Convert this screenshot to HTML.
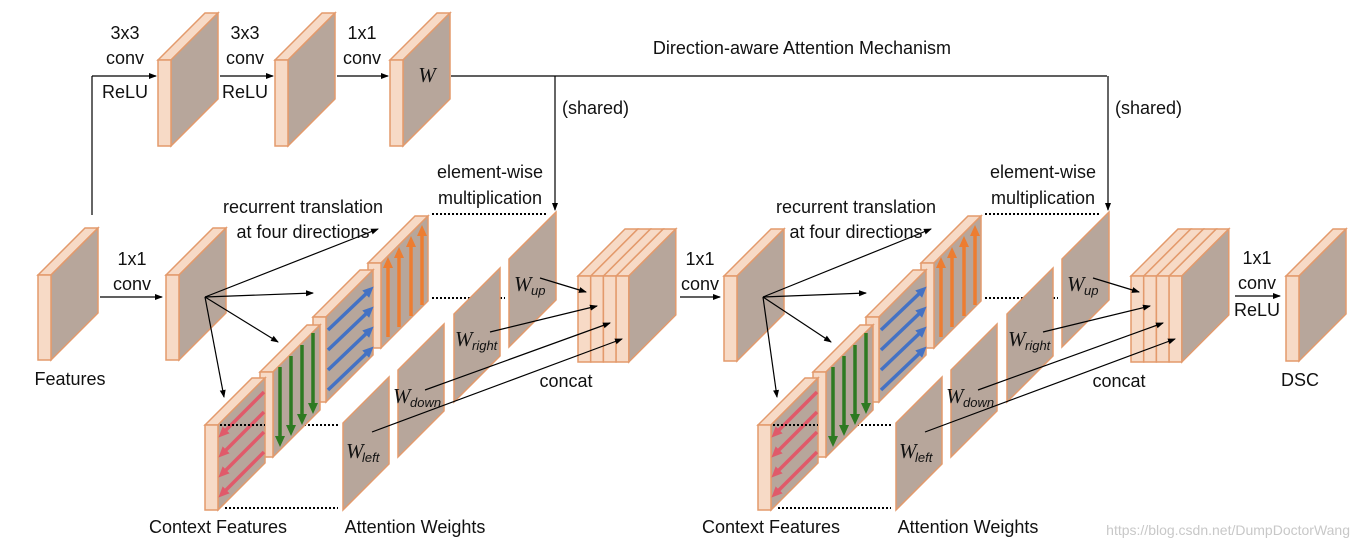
<!DOCTYPE html>
<html><head><meta charset="utf-8"><style>
body{margin:0;background:#fff}
svg{display:block}
text{font-family:"Liberation Sans",sans-serif;font-size:18px;fill:#111}
.m{font-family:"Liberation Serif",serif;font-style:italic;font-size:21px}
.s{font-size:13px;font-style:italic}
</style></head><body>
<svg id="g" width="1356" height="551" xmlns="http://www.w3.org/2000/svg">
<defs>
<marker id="a" markerWidth="8" markerHeight="8" refX="7" refY="4" orient="auto" markerUnits="userSpaceOnUse"><path d="M0,1 L8,4 L0,7z" fill="#000"/></marker>
<marker id="o" markerWidth="12" markerHeight="12" refX="6" refY="6" orient="auto" markerUnits="userSpaceOnUse"><path d="M0,1 L11,6 L0,11z" fill="#ed7d31"/></marker>
<marker id="b" markerWidth="12" markerHeight="12" refX="6" refY="6" orient="auto" markerUnits="userSpaceOnUse"><path d="M0,1 L11,6 L0,11z" fill="#4472c4"/></marker>
<marker id="gr" markerWidth="12" markerHeight="12" refX="6" refY="6" orient="auto" markerUnits="userSpaceOnUse"><path d="M0,1 L11,6 L0,11z" fill="#2e7a22"/></marker>
<marker id="r" markerWidth="12" markerHeight="12" refX="6" refY="6" orient="auto" markerUnits="userSpaceOnUse"><path d="M0,1 L11,6 L0,11z" fill="#e05a6a"/></marker>
</defs>
</svg>
<script>
var S='',E='#f7dac6',F='#b7a69b',K='#e39a6c';
function P(p,f){return '<polygon points="'+p.map(function(q){return q.join(',')}).join(' ')+'" fill="'+f+'" stroke="'+K+'" stroke-width="1.5"/>';}
function slab(x,y,w,h,d){S+=P([[x,y],[x+d,y-d],[x+d+w,y-d],[x+w,y]],E);S+=P([[x+w,y],[x+w+d,y-d],[x+w+d,y-d+h],[x+w,y+h]],F);S+='<rect x="'+x+'" y="'+y+'" width="'+w+'" height="'+h+'" fill="'+E+'" stroke="'+K+'" stroke-width="1.5"/>';}
function face(x,y,h,d){S+=P([[x,y],[x+d,y-d],[x+d,y-d+h],[x,y+h]],F);}
function concat(x,y){var w=12.7,h=86,d=47;for(var i=3;i>=0;i--){var xx=x+i*w;S+=P([[xx,y],[xx+d,y-d],[xx+d+w,y-d],[xx+w,y]],E);}
S+=P([[x+4*w,y],[x+4*w+d,y-d],[x+4*w+d,y-d+h],[x+4*w,y+h]],F);for(i=0;i<4;i++)S+='<rect x="'+(x+i*w)+'" y="'+y+'" width="'+w+'" height="'+h+'" fill="'+E+'" stroke="'+K+'" stroke-width="1.5"/>';}
function L(x1,y1,x2,y2,m,c,sw,da){S+='<line x1="'+x1+'" y1="'+y1+'" x2="'+x2+'" y2="'+y2+'" stroke="'+(c||'#000')+'" stroke-width="'+(sw||1.2)+'"'+(m?' marker-end="url(#'+m+')"':'')+(da?' stroke-dasharray="'+da+'"':'')+'/>';}
function T(x,y,t,c,a){S+='<text x="'+x+'" y="'+y+'" text-anchor="'+(a||'middle')+'"'+(c?' class="'+c+'"':'')+'>'+t+'</text>';}
function half(o,conv){
 L(432+o,214,548+o,214,0,'#000',2,'2,2');L(432+o,298,505+o,298,0,'#000',2,'2,2');
 L(220+o,425,338+o,425,0,'#000',2,'2,2');L(225+o,508,338+o,508,0,'#000',2,'2,2');
 slab(368+o,263,13,85,47);
 [[388,337,257],[399,327,247],[411,316,236],[422,305,225]].forEach(function(a){L(a[0]+o,a[1],a[0]+o,a[2]+5,'o','#ed7d31',3.5);});
 slab(313+o,317,13,85,47);
 for(var i=0;i<4;i++)L(328+o,390-i*20,370+o,350-i*20,'b','#4472c4',3.5);
 slab(260+o,372,13,85,47);
 [[280,367,447],[291,356,436],[302,345,425],[313,333,414]].forEach(function(a){L(a[0]+o,a[1],a[0]+o,a[2]-5,'gr','#2e7a22',3.5);});
 slab(205+o,425,13,85,47);
 for(i=0;i<4;i++)L(264+o,392+i*20,222+o,434+i*20,'r','#e05a6a',3.5);
 L(220+o,425,265+o,425,0,'#000',2,'2,2');
 face(343+o,423,87,46);face(398+o,370,87,46);face(454+o,314,88,46);face(509+o,259,88,47);
 T(346+o,458,'W','m','start');T(362+o,462,'left','s','start');
 T(393+o,403,'W','m','start');T(410+o,407,'down','s','start');
 T(455+o,346,'W','m','start');T(472+o,350,'right','s','start');
 T(514+o,291,'W','m','start');T(531+o,295,'up','s','start');
 concat(578+o,276);
 L(540+o,278,586+o,292,'a');L(490+o,332,597+o,306,'a');L(425+o,390,610+o,323,'a');L(372+o,432,622+o,339,'a');
 var cx=conv+39,cy=297;
 L(cx,cy,378+o,229,'a');L(cx,cy,313+o,293,'a');L(cx,cy,278+o,342,'a');L(cx,cy,224+o,397,'a');
 T(303+o,213,'recurrent translation');T(303+o,238,'at four directions');
 T(490+o,178,'element-wise');T(490+o,204,'multiplication');
 T(218+o,533,'Context Features');T(415+o,533,'Attention Weights');T(566+o,387,'concat');
 L(555+o,76,555+o,210,'a');T(562+o,114,'(shared)','', 'start');
}
slab(38,275,13,85,47);T(70,385,'Features');
L(100,297,162,297,'a');T(132,265,'1x1');T(132,290,'conv');
slab(166,275,13,85,47);
half(0,166);
L(680,297,720,297,'a');T(700,265,'1x1');T(700,290,'conv');
slab(724,276,13,85,47);
half(553,724);
L(1235,296,1280,296,'a');T(1257,264,'1x1');T(1257,289,'conv');T(1257,316,'ReLU');
slab(1286,276,13,85,47);T(1300,386,'DSC');
L(92,215,92,76);L(92,76,156,76,'a');slab(158,60,13,86,47);
L(220,76,273,76,'a');slab(275,60,13,86,47);
L(337,76,388,76,'a');slab(390,60,13,86,47);T(427,82,'W','m');
T(125,39,'3x3');T(125,64,'conv');T(125,98,'ReLU');
T(245,39,'3x3');T(245,64,'conv');T(245,98,'ReLU');
T(362,39,'1x1');T(362,64,'conv');
L(451,76,1107,76);T(802,54,'Direction-aware Attention Mechanism');
S+='<text x="1350" y="535" text-anchor="end" style="font-size:14px;fill:#c8c8c8">https://blog.csdn.net/DumpDoctorWang</text>';
document.getElementById('g').insertAdjacentHTML('beforeend',S);
</script>
</body></html>
